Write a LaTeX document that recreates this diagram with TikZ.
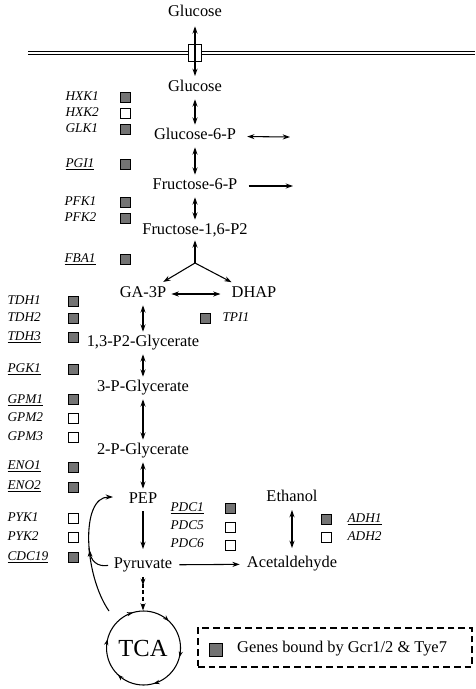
\documentclass[tikz,border=0pt]{standalone}
\usepackage{fontspec}
\setmainfont{Liberation Serif}
\usepackage{tikz}
\usetikzlibrary{
  arrows.meta,
  positioning,
  calc,
  decorations.markings,
  shapes.geometric
}

\begin{document}
\begin{tikzpicture}[x=0.75pt, y=-0.75pt, >={Stealth[length=5.5pt,width=3.8pt]}, line width=0.8pt,
  met/.style={inner sep=2pt, text height=1.6ex, text depth=0.4ex, font=\fontsize{12.3}{14}\selectfont},
  gene/.style={anchor=west, inner sep=0pt, text height=1.5ex, text depth=0.45ex, font=\fontsize{10}{12}\selectfont\itshape},
  bound/.style={draw, line width=0.6pt, fill=black!55, minimum size=7.5pt, inner sep=0pt},
  unbound/.style={bound, fill=white},
  link/.style={<->, shorten <=1.5pt, shorten >=1.5pt},
  ring/.style={postaction=decorate, decoration={markings,
    mark=between positions 0.04 and 1 step 0.166 with {\arrow{Stealth[length=4.5pt,width=3.2pt]}}}},
  midarrow/.style={postaction=decorate, decoration={markings,
    mark=at position #1 with {\arrow{Stealth[length=5pt,width=3.6pt]}}}}
]
\useasboundingbox (0,0) rectangle (475,689);

% membrane with transporter
\coordinate (memL) at (28,53);
\coordinate (memR) at (475,53);
\draw[double, double distance=1.9pt, line width=0.6pt] (memL) -- (memR);
\node[cylinder, shape border rotate=90, draw, fill=white, aspect=0.7, minimum width=10pt,
  minimum height=13pt, inner sep=0pt, line width=0.7pt] (pore) at (195,53) {};

% metabolites
\node[met] (glcout) at (195,13) {Glucose};
\node[met] (glcin) at (195,88) {Glucose};
\node[met] (g6p) at (195,136) {Glucose-6-P};
\node[met] (f6p) at (195,186) {Fructose-6-P};
\node[met] (f16p) at (195,231) {Fructose-1,6-P2};
\node[met] (ga3p) at (143,294) {GA-3P};
\node[met] (dhap) at (254,294) {DHAP};
\node[met] (bpg) at (143,343) {1,3-P2-Glycerate};
\node[met] (pg3) at (143,388) {3-P-Glycerate};
\node[met] (pg2) at (143,451) {2-P-Glycerate};
\node[met] (pep) at (143,500) {PEP};
\node[met] (pyr) at (143,565) {Pyruvate};
\node[met] (acald) at (292,564) {Acetaldehyde};
\node[met] (etoh) at (292,498) {Ethanol};
\node[circle, minimum size=55.5pt, inner sep=0pt, font=\fontsize{18.4}{20}\selectfont] (tca) at (143,648) {TCA};

% reactions
\draw[link, shorten <=3pt, shorten >=2pt] (glcout) -- (glcin);
\draw[link] (glcin) -- (g6p);
\draw[link] (g6p) -- (f6p);
\draw[link] (f6p) -- (f16p);
\coordinate (g6pout) at (290,137);
\coordinate (f6pout) at (293,186);
\draw[<->, shorten <=6pt] (g6p) -- (g6pout);
\draw[->, shorten <=6pt] (f6p) -- (f6pout);

\coordinate (fork) at (195,263);
\draw[->] (fork) -- (f16p);
\draw[->, shorten >=4pt] (fork) -- (ga3p);
\draw[->, shorten >=4pt] (fork) -- (dhap);
\draw[link, shorten >=6pt] (ga3p) -- (dhap);

\draw[link] (ga3p) -- (bpg);
\draw[link] (bpg) -- (pg3);
\draw[link] (pg3) -- (pg2);
\draw[link] (pg2) -- (pep);
\draw[->, shorten <=1.5pt, shorten >=5pt] (pep) -- (pyr);
\draw[->, shorten <=3pt, shorten >=3pt] (pyr) -- (acald);
\draw[link, shorten <=2pt, shorten >=5pt] (etoh) -- (acald);
\draw[->, dash pattern=on 3pt off 2pt, midarrow=0.3, shorten <=2pt] (pyr) -- (tca);

% TCA cycle and return to PEP
\draw[ring] (tca.east) arc[start angle=0, end angle=-360, radius=27.75pt];
\coordinate (tcaout) at (109,611);
\coordinate (pepin) at (113,497);
\coordinate (join) at (89,548);
\draw[->, midarrow=0.5] (tcaout) .. controls (84,575) and (80,497) .. (pepin);
\draw[shorten <=2pt] (pyr.west) .. controls (98,567) and (90,562) .. (join);

% genes
\node[gene] (hxk1) at (65,97) {HXK1};            \node[bound] (hxk1b) at (125,97) {};
\node[gene] (hxk2) at (65,113) {HXK2};           \node[unbound] (hxk2b) at (125,113) {};
\node[gene] (glk1) at (65,129) {GLK1};           \node[bound] (glk1b) at (125,129) {};
\node[gene] (pgi1) at (65,164) {\underline{PGI1}}; \node[bound] (pgi1b) at (125,164) {};
\node[gene] (pfk1) at (64,202) {PFK1};           \node[bound] (pfk1b) at (125,202) {};
\node[gene] (pfk2) at (64,218) {PFK2};           \node[bound] (pfk2b) at (125,218) {};
\node[gene] (fba1) at (64,259) {\underline{FBA1}}; \node[bound] (fba1b) at (125,259) {};

\node[gene] (tdh1) at (7,301) {TDH1};            \node[bound] (tdh1b) at (73,301) {};
\node[gene] (tdh2) at (7,318) {TDH2};            \node[bound] (tdh2b) at (73,318) {};
\node[gene] (tdh3) at (7,337) {\underline{TDH3}}; \node[bound] (tdh3b) at (73,337) {};
\node[gene] (pgk1) at (7,369) {\underline{PGK1}}; \node[bound] (pgk1b) at (73,369) {};
\node[gene] (gpm1) at (7,400) {\underline{GPM1}}; \node[bound] (gpm1b) at (73,399) {};
\node[gene] (gpm2) at (7,418) {GPM2};            \node[unbound] (gpm2b) at (73,418) {};
\node[gene] (gpm3) at (7,437) {GPM3};            \node[unbound] (gpm3b) at (73,437) {};
\node[gene] (eno1) at (7,466) {\underline{ENO1}}; \node[bound] (eno1b) at (73,467) {};
\node[gene] (eno2) at (7,486) {\underline{ENO2}}; \node[bound] (eno2b) at (73,487) {};
\node[gene] (pyk1) at (7,518) {PYK1};            \node[unbound] (pyk1b) at (73,518) {};
\node[gene] (pyk2) at (7,537) {PYK2};            \node[unbound] (pyk2b) at (73,537) {};
\node[gene] (cdc19) at (7,557) {\underline{CDC19}}; \node[bound] (cdc19b) at (73,557) {};

\node[bound] (tpi1b) at (205,318) {};            \node[gene] (tpi1) at (222,318) {TPI1};

\node[gene] (pdc1) at (170,508) {\underline{PDC1}}; \node[bound] (pdc1b) at (230,508) {};
\node[gene] (pdc5) at (170,526) {PDC5};          \node[unbound] (pdc5b) at (230,527) {};
\node[gene] (pdc6) at (170,544) {PDC6};          \node[unbound] (pdc6b) at (230,545) {};

\node[bound] (adh1b) at (326,519) {};            \node[gene] (adh1) at (347,519) {\underline{ADH1}};
\node[unbound] (adh2b) at (326,537) {};          \node[gene] (adh2) at (347,537) {ADH2};

% legend
\node[draw, dash pattern=on 5pt off 3pt, minimum width=205.5pt, minimum height=29.25pt] (legend) at (335,647.5) {};
\node[bound, minimum size=10pt] (legsq) at (216,650) {};
\node[met, anchor=west] (legtext) at (234,649) {Genes bound by Gcr1/2 \& Tye7};
\end{tikzpicture}
\end{document}
